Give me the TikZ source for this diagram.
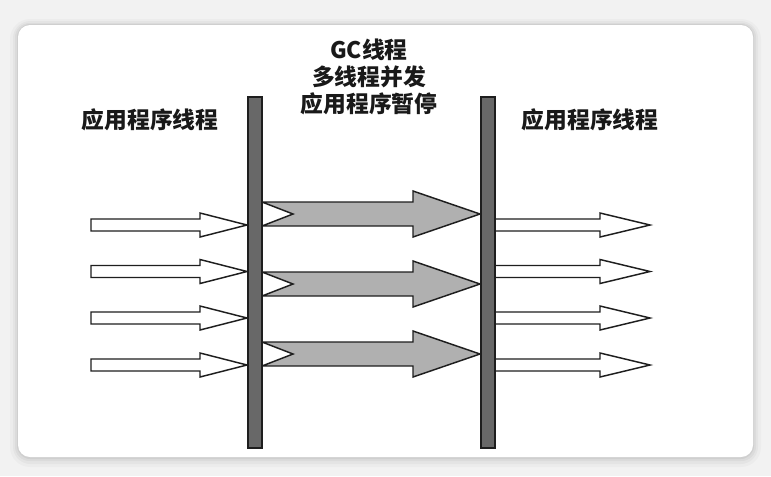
\documentclass[tikz,border=0pt]{standalone}
\usepackage{fontspec}
\newfontfamily\cjk{Noto Sans CJK SC}
\definecolor{bgc}{RGB}{242,242,242}
\definecolor{barc}{RGB}{104,104,104}
\definecolor{arrc}{RGB}{176,176,176}
\definecolor{linec}{RGB}{30,30,30}
\definecolor{txtc}{RGB}{25,25,25}
\tikzset{
  barbox/.style={draw=linec, fill=barc, line width=0.8pt, minimum width=10.5pt, minimum height=263.25pt, inner sep=0pt},
  warrow/.style={draw=linec, fill=white, line width=1.1pt, line join=miter},
  garrow/.style={draw=linec, fill=arrc, line width=1.1pt, line join=miter},
  lbl/.style={font=\cjk\bfseries\fontsize{17.1pt}{20.5pt}\selectfont, text=txtc, align=center, inner sep=0pt}
}
\begin{document}
\begin{tikzpicture}[x=0.75pt,y=-0.75pt]
\useasboundingbox (0,0) rectangle (771,476);
\fill[bgc] (0,0) rectangle (771,476);
% card shadow
\fill[black, opacity=0.025, rounded corners=15pt] (10,19) rectangle (761,467);
\fill[black, opacity=0.03, rounded corners=13pt] (13,21) rectangle (758,464);
\fill[black, opacity=0.04, rounded corners=11pt] (15,23) rectangle (756,461);
\fill[black, opacity=0.05, rounded corners=10pt] (17,24) rectangle (754,459);
% card
\fill[white, rounded corners=9pt] (18,25) rectangle (753,457);

% white arrows (left and right)
\foreach \y in {225,271.5,318,365} {
  \draw[warrow] (91,\y-6) -- (200,\y-6) -- (200,\y-12) -- (247,\y) -- (200,\y+12) -- (200,\y+6) -- (91,\y+6) -- cycle;
  \path[warrow] (490,\y-6) -- (600,\y-6) -- (600,\y-12) -- (650,\y) -- (600,\y+12) -- (600,\y+6) -- (490,\y+6);
}
% gray arrows
\foreach \y in {214,284,354} {
  \draw[garrow] (262,\y-12) -- (413,\y-12) -- (413,\y-23) -- (480,\y) -- (413,\y+23) -- (413,\y+12) -- (262,\y+12) -- (293,\y) -- cycle;
}
% bars
\node[barbox] (barL) at (255,272.5) {};
\node[barbox] (barR) at (488,272.5) {};

% labels
\node[lbl] (appL) at (150,120) {应用程序线程};
\node[lbl] (appR) at (590,120) {应用程序线程};
\node[lbl] (gc1) at (369,50) {GC线程};
\node[lbl] (gc2) at (369,77) {多线程并发};
\node[lbl] (gc3) at (369,104) {应用程序暂停};
\end{tikzpicture}
\end{document}
